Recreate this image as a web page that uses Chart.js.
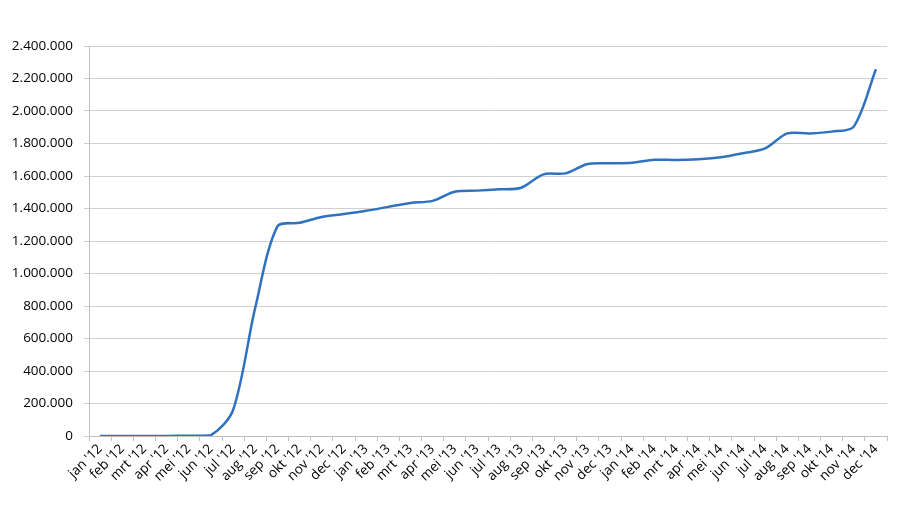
<!DOCTYPE html>
<html>
<head>
<meta charset="utf-8">
<script src="https://cdn.jsdelivr.net/npm/chart.js@4/dist/chart.umd.min.js"></script>
<style>
  html, body { margin: 0; padding: 0; background: #fff; }
  #wrap { width: 900px; height: 506px; }
</style>
</head>
<body>
<div id="wrap"><canvas id="myChart" width="900" height="506"></canvas></div>
<script>
// months, Dutch labels
const months = [
    "jan '12", "feb '12", "mrt '12", "apr '12", "mei '12", "jun '12",
    "jul '12", "aug '12", "sep '12", "okt '12", "nov '12", "dec '12",
    "jan '13", "feb '13", "mrt '13", "apr '13", "mei '13", "jun '13",
    "jul '13", "aug '13", "sep '13", "okt '13", "nov '13", "dec '13",
    "jan '14", "feb '14", "mrt '14", "apr '14", "mei '14", "jun '14",
    "jul '14", "aug '14", "sep '14", "okt '14", "nov '14", "dec '14"
];

// cumulative totals
const totals = [
    0, 0, 0, 0, 2000, 5000,
    160000, 790000, 1290000, 1312000, 1348000, 1366000,
    1386000, 1410000, 1434000, 1447000, 1503000, 1510000,
    1518000, 1528000, 1610000, 1616000, 1674000, 1678000,
    1682000, 1700000, 1698000, 1703000, 1715000, 1740000,
    1770000, 1862000, 1862000, 1873000, 1904000, 2257000
];

const yTicks = [0, 200000, 400000, 600000, 800000, 1000000, 1200000,
    1400000, 1600000, 1800000, 2000000, 2200000, 2400000];

function dutchNumber(n) {
    return String(n).replace(/\B(?=(\d{3})+(?!\d))/g, '.');
}

const ctx = document.getElementById('myChart');

var aChart = new Chart(ctx, {
    type: 'line',
    data: {
        labels: months,
        datasets: [{
            label: "totaal",
            data: totals,
            borderColor: '#2f72c0',
            borderWidth: 2.5,
            pointRadius: 0,
            tension: 0.3,
            fill: false
        }]
    },
    options: {
        responsive: false,
        animation: false,
        layout: {
            padding: { top: 46, right: 13, left: 0, bottom: 0 }
        },
        plugins: {
            legend: { display: false },
            tooltip: { enabled: false }
        },
        scales: {
            x: {
                offset: true,
                grid: {
                    offset: true,
                    drawOnChartArea: false,
                    drawTicks: true,
                    tickLength: 5,
                    color: '#bfbfbf'
                },
                border: { color: '#bfbfbf' },
                ticks: {
                    autoSkip: false,
                    minRotation: 45,
                    maxRotation: 45,
                    padding: 0,
                    color: '#000',
                    font: { family: 'Open Sans', size: 13.5 }
                },
                afterFit: function(scale) { scale.height = 70; }
            },
            y: {
                min: 0,
                max: 2400000,
                afterBuildTicks: function(scale) {
                    scale.ticks = yTicks.map(v => ({ value: v }));
                },
                grid: {
                    color: '#d0d0d0',
                    tickLength: 5
                },
                border: { color: '#bfbfbf' },
                ticks: {
                    padding: 11,
                    color: '#000',
                    font: { family: 'Open Sans', size: 13.5 },
                    callback: function(v) { return dutchNumber(v); }
                },
                afterFit: function(scale) { scale.width = 89; }
            }
        }
    }
});
</script>
</body>
</html>
